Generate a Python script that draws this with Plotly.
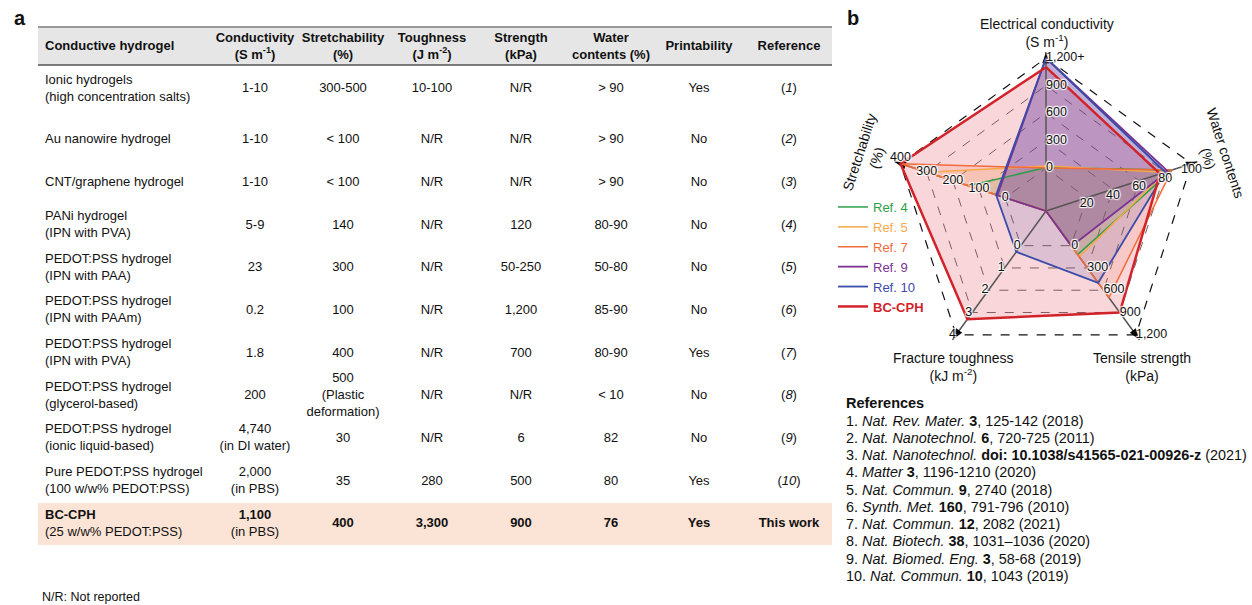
import plotly.graph_objects as go

# ---------------- data: table (panel a) ----------------
HYDROGELS = [
    "Ionic hydrogels<br>(high concentration salts)",
    "Au nanowire hydrogel",
    "CNT/graphene hydrogel",
    "PANi hydrogel<br>(IPN with PVA)",
    "PEDOT:PSS hydrogel<br>(IPN with PAA)",
    "PEDOT:PSS hydrogel<br>(IPN with PAAm)",
    "PEDOT:PSS hydrogel<br>(IPN with PVA)",
    "PEDOT:PSS hydrogel<br>(glycerol-based)",
    "PEDOT:PSS hydrogel<br>(ionic liquid-based)",
    "Pure PEDOT:PSS hydrogel<br>(100 w/w% PEDOT:PSS)",
    "<b>BC-CPH</b><br>(25 w/w% PEDOT:PSS)",
]
CONDUCTIVITY = ["1-10", "1-10", "1-10", "5-9", "23", "0.2", "1.8", "200",
                "4,740<br>(in DI water)", "2,000<br>(in PBS)", "<b>1,100</b><br>(in PBS)"]
STRETCHABILITY = ["300-500", "< 100", "< 100", "140", "300", "100", "400",
                  "500<br>(Plastic<br>deformation)", "30", "35", "<b>400</b>"]
TOUGHNESS = ["10-100", "N/R", "N/R", "N/R", "N/R", "N/R", "N/R", "N/R", "N/R", "280", "<b>3,300</b>"]
STRENGTH = ["N/R", "N/R", "N/R", "120", "50-250", "1,200", "700", "N/R", "6", "500", "<b>900</b>"]
WATER = ["> 90", "> 90", "> 90", "80-90", "50-80", "85-90", "80-90", "< 10", "82", "80", "<b>76</b>"]
PRINTABILITY = ["Yes", "No", "No", "No", "No", "No", "Yes", "No", "No", "Yes", "<b>Yes</b>"]
REFERENCE = ["(<i>1</i>)", "(<i>2</i>)", "(<i>3</i>)", "(<i>4</i>)", "(<i>5</i>)", "(<i>6</i>)",
             "(<i>7</i>)", "(<i>8</i>)", "(<i>9</i>)", "(<i>10</i>)", "<b>This work</b>"]
HEADERS = ["<b>Conductive hydrogel</b>", "<b>Conductivity</b><br><b>(S m<sup>-1</sup>)</b>",
           "<b>Stretchability</b><br><b>(%)</b>", "<b>Toughness</b><br><b>(J m<sup>-2</sup>)</b>",
           "<b>Strength</b><br><b>(kPa)</b>", "<b>Water</b><br><b>contents (%)</b>",
           "<b>Printability</b>", "<b>Reference</b>"]

# ---------------- data: radar (panel b) ----------------
RADAR_AXES = ["Electrical conductivity", "Water contents", "Tensile strength",
              "Fracture toughness", "Stretchability"]
AXIS_MIN = [0, 20, 0, 0, 0]
AXIS_MAX = [1200, 100, 1200, 4, 400]
AXIS_TICKS = [[0, 300, 600, 900, 1200], [20, 40, 60, 80, 100], [0, 300, 600, 900, 1200],
              [0, 1, 2, 3, 4], [0, 100, 200, 300, 400]]
AXIS_TICKTEXT = [["0", "300", "600", "900", "1,200+"], ["20", "40", "60", "80", "100"],
                 ["0", "300", "600", "900", "1,200"], ["0", "1", "2", "3", "4"],
                 ["0", "100", "200", "300", "400"]]
# values per axis: conductivity (S/m), water (%), strength (kPa), toughness (kJ/m2), stretch (%)
SERIES_NAMES = ["Ref. 4", "Ref. 5", "Ref. 7", "Ref. 9", "Ref. 10", "BC-CPH"]
REF4 = [7, 85, 120, None, 140]
REF5 = [23, 80, 150, None, 300]
REF7 = [1.8, 85, 700, None, 400]
REF9 = [4740, 82, 6, None, 30]
REF10 = [2000, 80, 500, 0.28, 35]
BCCPH = [1100, 76, 900, 3.3, 400]
SERIES_VALUES = [REF4, REF5, REF7, REF9, REF10, BCCPH]

REFERENCES = [
    "1. <i>Nat. Rev. Mater.</i> <b>3</b>, 125-142 (2018)",
    "2. <i>Nat. Nanotechnol.</i> <b>6</b>, 720-725 (2011)",
    "3. <i>Nat. Nanotechnol.</i> <b>doi: 10.1038/s41565-021-00926-z</b> (2021)",
    "4. <i>Matter</i> <b>3</b>, 1196-1210 (2020)",
    "5. <i>Nat. Commun.</i> <b>9</b>, 2740 (2018)",
    "6. <i>Synth. Met.</i> <b>160</b>, 791-796 (2010)",
    "7. <i>Nat. Commun.</i> <b>12</b>, 2082 (2021)",
    "8. <i>Nat. Biotech.</i> <b>38</b>, 1031\u20131036 (2020)",
    "9. <i>Nat. Biomed. Eng.</i> <b>3</b>, 58-68 (2019)",
    "10. <i>Nat. Commun.</i> <b>10</b>, 1043 (2019)",
]

# ---------------- styles ----------------
FONT = "Liberation Sans, Arial, Helvetica, sans-serif"
W, H = 1252, 605
LINE_COLORS = ["#2e9e48", "#f9a84a", "#f26b3a", "#7b3294", "#3b4ba8", "#d2232a"]
FILL_COLORS = ["rgba(46,158,72,0.13)", "rgba(249,168,74,0.13)", "rgba(242,107,58,0.13)",
               "rgba(123,50,148,0.3)", "rgba(60,70,170,0.14)", "rgba(225,70,80,0.22)"]
LINE_WIDTHS = [1.5, 1.5, 1.5, 1.8, 1.8, 2.5]
INNER = 0.28  # radius of the zero pentagon (N/R at centre)

fig = go.Figure()

# ---------------- table ----------------
COL_X = [45, 255, 343, 432, 521, 611, 699, 789]
FIRST_ROW_Y, ROW1_Y, ROW_STEP = 89, 140, 42.67
HEADER_Y = 47
row_y = [FIRST_ROW_Y] + [ROW1_Y + (i - 1) * ROW_STEP for i in range(1, len(HYDROGELS))]
columns = [HYDROGELS, CONDUCTIVITY, STRETCHABILITY, TOUGHNESS, STRENGTH, WATER, PRINTABILITY, REFERENCE]
for ci, col in enumerate(columns):
    fig.add_trace(go.Scatter(
        x=[COL_X[ci]] * len(col), y=row_y, text=col, mode="text",
        textposition="middle right" if ci == 0 else "middle center",
        textfont=dict(family=FONT, size=13, color="#111"),
        xaxis="x", yaxis="y", showlegend=False, hoverinfo="skip", cliponaxis=False))
    fig.add_trace(go.Scatter(
        x=[COL_X[ci]], y=[HEADER_Y], text=[HEADERS[ci]], mode="text",
        textposition="middle right" if ci == 0 else "middle center",
        textfont=dict(family=FONT, size=13, color="#111"),
        xaxis="x", yaxis="y", showlegend=False, hoverinfo="skip", cliponaxis=False))

TX0, TX1 = 38, 832
shapes = [
    dict(type="rect", xref="x", yref="y", x0=TX0, x1=TX1, y0=27, y1=65,
         fillcolor="#e6e6e6", line=dict(width=0), layer="below"),
    dict(type="line", xref="x", yref="y", x0=TX0, x1=TX1, y0=27, y1=27,
         line=dict(color="#9a9a9a", width=2)),
    dict(type="line", xref="x", yref="y", x0=TX0, x1=TX1, y0=65, y1=65,
         line=dict(color="#555", width=1.5)),
    dict(type="rect", xref="x", yref="y", x0=TX0, x1=TX1,
         y0=row_y[-1] - 21, y1=row_y[-1] + 21,
         fillcolor="#fbe3d5", line=dict(width=0), layer="below"),
]

# ---------------- radar ----------------
def norm(v, i):
    if v is None:
        return 0.0
    f = (v - AXIS_MIN[i]) / (AXIS_MAX[i] - AXIS_MIN[i])
    f = max(0.0, min(1.0, f))
    return INNER + (1 - INNER) * f

theta_closed = RADAR_AXES + [RADAR_AXES[0]]
# fills
for k in [5, 0, 1, 2, 3, 4]:
    r = [norm(v, i) for i, v in enumerate(SERIES_VALUES[k])]
    fig.add_trace(go.Scatterpolar(
        r=r + [r[0]], theta=theta_closed, mode="lines", fill="toself",
        fillcolor=FILL_COLORS[k], line=dict(width=0), showlegend=False,
        hoverinfo="skip", subplot="polar"))
# outer (maximum) pentagon
fig.add_trace(go.Scatterpolar(
    r=[1.0] * 6, theta=theta_closed, mode="lines",
    line=dict(color="#111", width=1.2, dash="dash"), showlegend=False,
    hoverinfo="skip", subplot="polar"))
# spokes
for ai, ax in enumerate(RADAR_AXES):
    fig.add_trace(go.Scatterpolar(
        r=[0, 1.04], theta=[ax, ax], mode="lines",
        line=dict(color="#555", width=1.5), showlegend=False,
        hoverinfo="skip", subplot="polar"))
fig.add_trace(go.Scatterpolar(
    r=[1.04] * 5, theta=RADAR_AXES, mode="markers",
    marker=dict(symbol="arrow", size=12, color="black", angle=[0, 72, 144, 216, 288]),
    showlegend=False, hoverinfo="skip", subplot="polar"))
# series lines
for k in range(len(SERIES_NAMES)):
    r = [norm(v, i) for i, v in enumerate(SERIES_VALUES[k])]
    label = SERIES_NAMES[k] if k < 5 else "<b>" + SERIES_NAMES[k] + "</b>"
    fig.add_trace(go.Scatterpolar(
        r=r + [r[0]], theta=theta_closed, mode="lines",
        line=dict(color=LINE_COLORS[k], width=LINE_WIDTHS[k]),
        name='<span style="color:%s">%s</span>' % (LINE_COLORS[k], label),
        hoverinfo="skip", subplot="polar"))
# tick labels
TICK_POS = ["middle right", "bottom center", "middle right", "middle left", "middle center"]
for ai, ax in enumerate(RADAR_AXES):
    pos = [TICK_POS[ai]] * 5
    if ai == 4:
        pos[-1] = "top center"
    fig.add_trace(go.Scatterpolar(
        r=[norm(t, ai) for t in AXIS_TICKS[ai]], theta=[ax] * 5, mode="text",
        text=AXIS_TICKTEXT[ai], textposition=pos,
        textfont=dict(family=FONT, size=12.5, color="#111", shadow="auto"),
        showlegend=False, hoverinfo="skip", subplot="polar", cliponaxis=False))
fig.add_trace(go.Scatterpolar(
    r=[0], theta=[RADAR_AXES[0]], mode="text", text=["<b>N/R</b>"],
    textposition="middle center",
    textfont=dict(family=FONT, size=13.5, color="#111", shadow="auto"),
    showlegend=False, hoverinfo="skip", subplot="polar", cliponaxis=False))

# ---------------- annotations ----------------
def px(x):
    return x / W

def py(y):
    return 1 - y / H

ann = [
    dict(text="<b>a</b>", x=px(20), y=py(18), font=dict(size=20)),
    dict(text="<b>b</b>", x=px(853), y=py(18), font=dict(size=20)),
    dict(text="Electrical conductivity<br>(S m<sup>-1</sup>)", x=px(1047), y=py(33), font=dict(size=14)),
    dict(text="Water contents<br>(%)", x=px(1217), y=py(156), textangle=72, font=dict(size=14)),
    dict(text="Stretchability<br>(%)", x=px(868), y=py(155), textangle=-72, font=dict(size=14)),
    dict(text="Fracture toughness<br>(kJ m<sup>-2</sup>)", x=px(953), y=py(367), font=dict(size=14)),
    dict(text="Tensile strength<br>(kPa)", x=px(1142), y=py(367), font=dict(size=14)),
    dict(text="N/R: Not reported", x=px(40), y=py(597), xanchor="left", font=dict(size=12.5)),
    dict(text="<b>References</b>", x=px(844), y=py(403), xanchor="left", font=dict(size=14.5)),
]
for i, line in enumerate(REFERENCES):
    ann.append(dict(text=line, x=px(844), y=py(420.5 + 17.25 * i), xanchor="left",
                    font=dict(size=14.4)))
for a in ann:
    a.setdefault("xref", "paper")
    a.setdefault("yref", "paper")
    a.setdefault("xanchor", "center")
    a.setdefault("yanchor", "middle")
    a.setdefault("showarrow", False)
    f = a.setdefault("font", {})
    f.setdefault("size", 13.2)
    f.setdefault("family", FONT)
    f.setdefault("color", "#111")

R_PX, CX, CY, RMAX = 153, 1046, 211, 1.06
half = R_PX * RMAX
fig.update_layout(
    width=W, height=H, margin=dict(l=0, r=0, t=0, b=0),
    paper_bgcolor="white", plot_bgcolor="white", hovermode=False,
    font=dict(family=FONT, size=13, color="#111"),
    xaxis=dict(domain=[0, 839 / W], range=[0, 839], visible=False, fixedrange=True),
    yaxis=dict(domain=[0, 1], range=[H, 0], visible=False, fixedrange=True),
    polar=dict(
        domain=dict(x=[px(CX - half), px(CX + half)], y=[py(CY + half), py(CY - half)]),
        gridshape="linear", bgcolor="rgba(0,0,0,0)",
        radialaxis=dict(range=[0, RMAX], tickvals=[INNER + (1 - INNER) * f for f in [0, 0.25, 0.5, 0.75]],
                        showticklabels=False, ticks="", showline=False,
                        gridcolor="#666", griddash="dash", gridwidth=1),
        angularaxis=dict(rotation=90, direction="clockwise", categoryorder="array",
                         categoryarray=RADAR_AXES, showticklabels=False, ticks="",
                         showgrid=False, showline=False),
    ),
    legend=dict(x=px(833), y=py(192), xanchor="left", yanchor="top",
                font=dict(family=FONT, size=13), bgcolor="rgba(0,0,0,0)",
                itemwidth=30, tracegroupgap=0),
    shapes=shapes, annotations=ann,
)

fig.write_html("out.html", config={"displayModeBar": False},
               post_script="document.body.style.margin='0px';document.body.style.overflow='hidden';")
